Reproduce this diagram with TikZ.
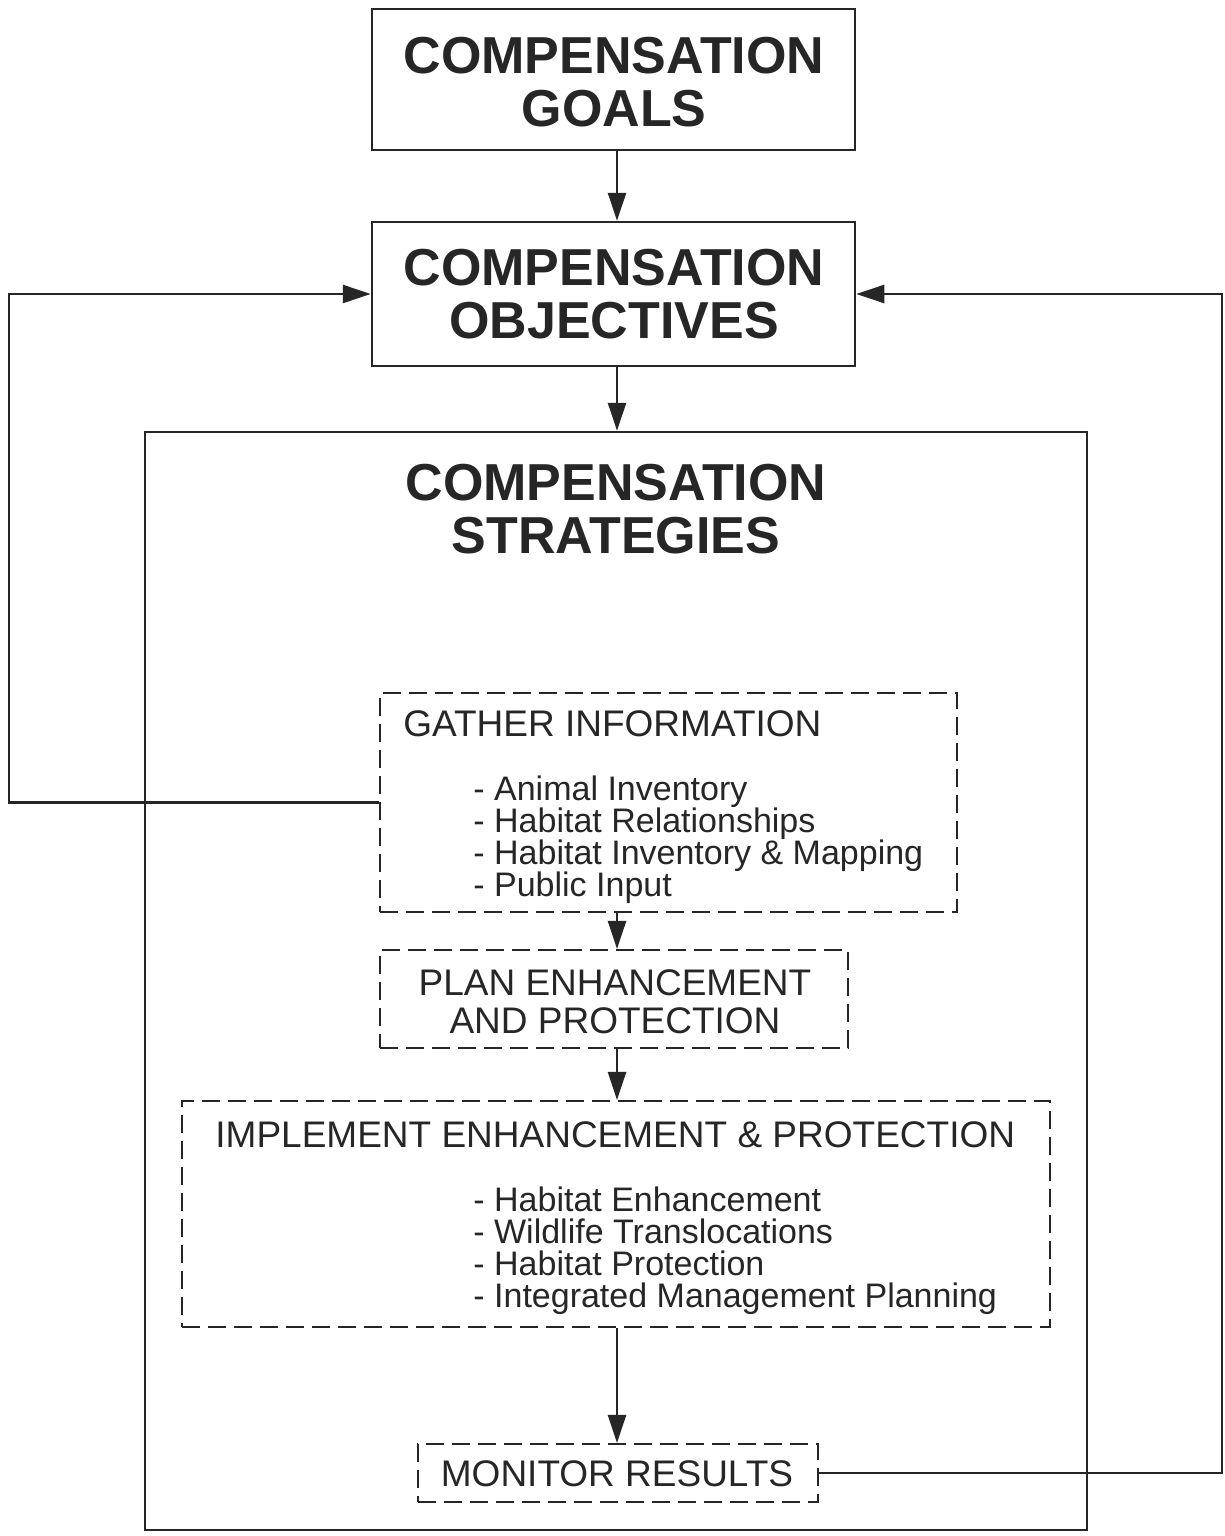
\documentclass[tikz,border=0pt]{standalone}
\usepackage{fontspec}
\setmainfont{Liberation Sans}
\usetikzlibrary{arrows.meta}
\begin{document}
\begin{tikzpicture}[x=0.5pt,y=-0.5pt,
  solidbox/.style={draw=black!85, line width=1.25pt, inner sep=0pt},
  dashbox/.style={draw=black!85, line width=1.05pt, dash pattern=on 9pt off 4pt, inner sep=0pt},
  bigtitle/.style={font=\bfseries\fontsize{26}{26.5}\selectfont, align=center, text=black!85, inner sep=0pt},
  midtitle/.style={font=\fontsize{18.5}{19}\selectfont, align=center, text=black!85, inner sep=0pt},
  listtext/.style={font=\fontsize{17}{16}\selectfont, align=left, text=black!85, inner sep=0pt},
  conn/.style={draw=black!85, line width=1.25pt},
  arr/.style={conn, -{Triangle[length=14pt,width=9pt]}}
]
\useasboundingbox (0,0) rectangle (1225,1536);
\fill[white] (0,0) rectangle (1225,1536);

% boxes
\node[solidbox, minimum width=241.5pt, minimum height=70.5pt] (goals) at (613.5,79.5) {};
\node[bigtitle] (goalstxt) at (614,82) {COMPENSATION\\GOALS};

\node[solidbox, minimum width=241.5pt, minimum height=72pt] (obj) at (613.5,294) {};
\node[bigtitle] (objtxt) at (614,294) {COMPENSATION\\OBJECTIVES};

\node[solidbox, minimum width=471pt, minimum height=549pt] (strat) at (616,981) {};
\node[bigtitle] (strattxt) at (616,509) {COMPENSATION\\STRATEGIES};

\node[dashbox, minimum width=288.5pt, minimum height=109.5pt] (gather) at (668.5,802.5) {};
\node[midtitle, anchor=base west] (gathertxt) at (403,736) {GATHER INFORMATION};
\node[listtext, anchor=base west] (l1) at (473,800) {- Animal Inventory};
\node[listtext, anchor=base west] (l2) at (473,832) {- Habitat Relationships};
\node[listtext, anchor=base west] (l3) at (473,864) {- Habitat Inventory \& Mapping};
\node[listtext, anchor=base west] (l4) at (473,896) {- Public Input};

\node[dashbox, minimum width=234pt, minimum height=49pt] (plan) at (614,999) {};
\node[midtitle] (plantxt) at (615,1002) {PLAN ENHANCEMENT\\AND PROTECTION};

\node[dashbox, minimum width=434pt, minimum height=113pt] (impl) at (616,1214) {};
\node[midtitle, anchor=base west] (impltxt) at (215,1147) {IMPLEMENT ENHANCEMENT \& PROTECTION};
\node[listtext, anchor=base west] (m1) at (473,1211) {- Habitat Enhancement};
\node[listtext, anchor=base west] (m2) at (473,1243) {- Wildlife Translocations};
\node[listtext, anchor=base west] (m3) at (473,1275) {- Habitat Protection};
\node[listtext, anchor=base west] (m4) at (473,1307) {- Integrated Management Planning};

\node[dashbox, minimum width=200pt, minimum height=29pt] (mon) at (618,1473) {};
\node[midtitle] (montxt) at (617,1474) {MONITOR RESULTS};

% helper coordinates
\coordinate (cx) at (617,0);
\coordinate (lft) at (9,294);
\coordinate (rgt) at (1222,294);

% connectors
\draw[arr] (goals.south -| cx) -- (obj.north -| cx);
\draw[arr] (obj.south -| cx) -- (strat.north -| cx);
\draw[arr] (gather.south -| cx) -- (plan.north -| cx);
\draw[arr] (plan.south -| cx) -- (impl.north -| cx);
\draw[arr] (impl.south -| cx) -- (mon.north -| cx);
\draw[arr] (gather.west) -| (lft) -- (obj.west);
\draw[arr] (mon.east) -| (rgt) -- (obj.east);
\end{tikzpicture}
\end{document}
